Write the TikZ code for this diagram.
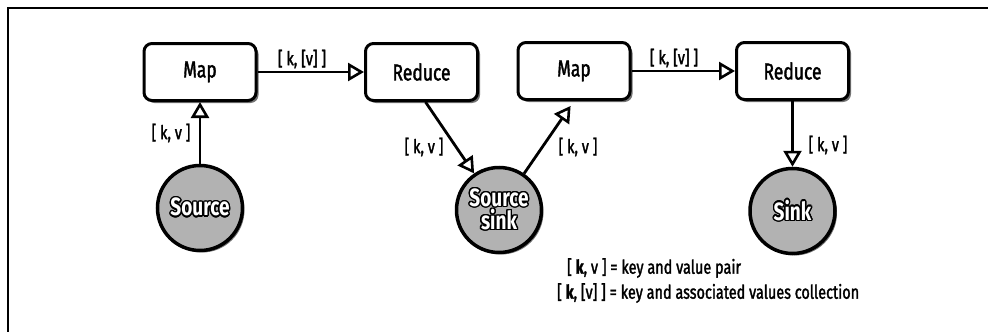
\documentclass[tikz,border=0pt]{standalone}
\usepackage{fontspec}
\setmainfont{Fira Sans}[FakeStretch=0.76]
\newfontfamily\semib{Fira Sans}[FakeStretch=0.76, FakeBold=1.6]
\usepackage{contour}
\contourlength{1.4pt}
\usetikzlibrary{arrows.meta,shadows}
\begin{document}
\begin{tikzpicture}[x=1pt,y=-1pt,
  box/.style={draw, line width=3pt, rounded corners=8pt, fill=white,
    minimum width=112pt, minimum height=57pt, inner sep=0pt,
    font=\semib\fontsize{23}{26}\selectfont,
    drop shadow={shadow xshift=2.5pt, shadow yshift=-2.5pt, fill=black!55, opacity=1}},
  store/.style={draw, circle, line width=3.5pt, fill=black!30, minimum size=85pt,
    inner sep=0pt, align=center, font=\bfseries\fontsize{25}{22}\selectfont,
    drop shadow={shadow xshift=2pt, shadow yshift=-2pt, fill=black!55, opacity=1}},
  arr/.style={line width=2.8pt, -{Triangle[open, length=16pt, width=18pt, line width=2.6pt]}},
  lab/.style={font=\semib\fontsize{19}{22}\selectfont, inner sep=0pt},
  legend/.style={font=\semib\fontsize{19}{22}\selectfont, inner sep=0pt, anchor=west}
]
\useasboundingbox (0,0) rectangle (988,332);
\draw[line width=2pt] (8,332) -- (8,7.5) -- (988,7.5);

\node[box] (m1) at (200,72) {Map};
\node[box] (r1) at (421.5,72) {Reduce};
\node[box] (m2) at (574,71) {Map};
\node[box] (r2) at (792.5,71) {Reduce};

\node[store] (src) at (200,208) {\color{white}\contour{black}{Source}};
\node[store] (ss) at (499,210) {\color{white}\contour{black}{Source}\\\color{white}\contour{black}{sink}};
\node[store] (snk) at (792.5,211) {\color{white}\contour{black}{Sink}};

\draw[arr] (m1) -- (r1);
\draw[arr] (src) -- (m1);
\draw[arr] ([xshift=4pt]r1.south) -- (ss);
\draw[arr, shorten >=6pt] (ss) -- (m2.south);
\draw[arr] (m2) -- (r2);
\draw[arr] (r2) -- (snk);

\node[lab] (l1) at (302,59) {[ k, [v] ]};
\node[lab] (l2) at (171,133) {[ k, v ]};
\node[lab] (l3) at (424,147) {[ k, v ]};
\node[lab] (l4) at (578,147) {[ k, v ]};
\node[lab] (l5) at (674,58) {[ k, [v] ]};
\node[lab] (l6) at (828,145) {[ k, v ]};

\node[legend] (g1) at (567,268) {[ \textbf{k}, v ] = key and value pair};
\node[legend] (g2) at (557,293) {[ \textbf{k}, [v] ] = key and associated values collection};
\end{tikzpicture}
\end{document}
